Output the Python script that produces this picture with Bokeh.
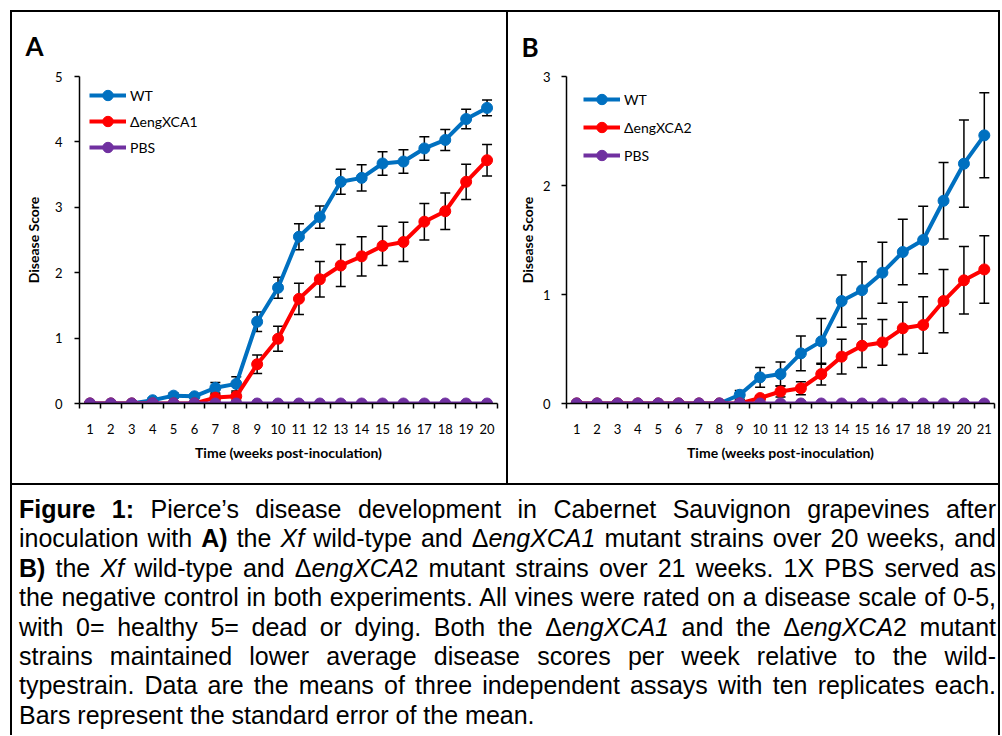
from bokeh.plotting import figure
from bokeh.models import (ColumnDataSource, Whisker, TeeHead, FixedTicker, Legend,
                          LegendItem, Div)
from bokeh.layouts import row, column
from bokeh.embed import file_html
from bokeh.resources import INLINE

# ---------------- data ----------------
weeks_a = [1, 2, 3, 4, 5, 6, 7, 8, 9, 10, 11, 12, 13, 14, 15, 16, 17, 18, 19, 20]
wt_a = [0.00, 0.00, 0.00, 0.05, 0.12, 0.11, 0.24, 0.30, 1.25, 1.77,
        2.55, 2.85, 3.39, 3.45, 3.67, 3.70, 3.90, 4.03, 4.35, 4.52]
wt_a_se = [0.00, 0.00, 0.00, 0.03, 0.04, 0.03, 0.08, 0.11, 0.15, 0.16,
           0.20, 0.17, 0.19, 0.20, 0.18, 0.18, 0.18, 0.16, 0.15, 0.12]
mut_a = [0.00, 0.00, 0.00, 0.00, 0.00, 0.00, 0.09, 0.11, 0.60, 0.99,
         1.60, 1.90, 2.11, 2.25, 2.41, 2.47, 2.78, 2.94, 3.39, 3.72]
mut_a_se = [0.00, 0.00, 0.00, 0.00, 0.00, 0.00, 0.05, 0.06, 0.14, 0.19,
            0.24, 0.27, 0.32, 0.30, 0.30, 0.30, 0.28, 0.28, 0.27, 0.24]
pbs_a = [0, 0, 0, 0, 0, 0, 0, 0, 0, 0, 0, 0, 0, 0, 0, 0, 0, 0, 0, 0]

weeks_b = [1, 2, 3, 4, 5, 6, 7, 8, 9, 10, 11, 12, 13, 14, 15, 16, 17, 18, 19, 20, 21]
wt_b = [0.00, 0.00, 0.00, 0.00, 0.00, 0.00, 0.00, 0.00, 0.08, 0.24, 0.27,
        0.46, 0.57, 0.94, 1.04, 1.20, 1.39, 1.50, 1.86, 2.20, 2.46]
wt_b_se = [0.00, 0.00, 0.00, 0.00, 0.00, 0.00, 0.00, 0.00, 0.04, 0.09, 0.11,
           0.16, 0.21, 0.24, 0.26, 0.28, 0.30, 0.31, 0.35, 0.40, 0.39]
mut_b = [0.00, 0.00, 0.00, 0.00, 0.00, 0.00, 0.00, 0.00, 0.00, 0.05, 0.11,
         0.14, 0.27, 0.43, 0.53, 0.56, 0.69, 0.72, 0.94, 1.13, 1.23]
mut_b_se = [0.00, 0.00, 0.00, 0.00, 0.00, 0.00, 0.00, 0.00, 0.00, 0.02, 0.05,
            0.06, 0.10, 0.16, 0.20, 0.21, 0.24, 0.26, 0.29, 0.31, 0.31]
pbs_b = [0, 0, 0, 0, 0, 0, 0, 0, 0, 0, 0, 0, 0, 0, 0, 0, 0, 0, 0, 0, 0]

y_ticks_a = [0, 1, 2, 3, 4, 5]
y_ticks_b = [0, 1, 2, 3]
names_a = ["WT", "\u0394engXCA1", "PBS"]
names_b = ["WT", "\u0394engXCA2", "PBS"]
x_title = "Time (weeks post-inoculation)"
y_title = "Disease Score"

caption_lines = [
    "<b>Figure 1:</b> Pierce\u2019s disease development in Cabernet Sauvignon grapevines after",
    "inoculation with <b>A)</b> the <i>Xf</i> wild-type and \u0394<i>engXCA1</i> mutant strains over 20 weeks, and",
    "<b>B)</b> the <i>Xf</i> wild-type and \u0394<i>engXCA</i>2 mutant strains over 21 weeks. 1X PBS served as",
    "the negative control in both experiments. All vines were rated on a disease scale of 0-5,",
    "with 0= healthy 5= dead or dying. Both the \u0394<i>engXCA1</i> and the \u0394<i>engXCA</i>2 mutant",
    "strains maintained lower average disease scores per week relative to the wild-",
    "typestrain. Data are the means of three independent assays with ten replicates each.",
    "Bars represent the standard error of the mean.",
]

FONT = "Lato"
COLORS = ["#0070C0", "#FF0000", "#7030A0"]


def panel(letter, weeks, wt, wt_se, mut, mut_se, pbs, names, yticks, width,
          mb, ylab_standoff, ytick_standoff, title_offset, title_standoff,
          legend_loc, legend_spacing):
    p = figure(width=width, height=471,
               x_range=(0.5, weeks[-1] + 0.5), y_range=(yticks[0], yticks[-1]),
               output_backend="svg", toolbar_location=None,
               min_border_left=mb[0], min_border_right=mb[1],
               min_border_top=mb[2], min_border_bottom=mb[3])
    p.outline_line_color = None
    p.grid.visible = False
    p.background_fill_color = "white"
    p.border_fill_color = "white"

    p.title.text = letter
    p.title.align = "left"
    p.title.offset = title_offset
    p.title.standoff = title_standoff
    p.title.text_font = FONT
    p.title.text_font_style = "bold"
    p.title.text_font_size = "26px"
    p.title.text_color = "black"

    xa = p.xaxis[0]
    xa.ticker = FixedTicker(ticks=weeks,
                            minor_ticks=[w - 0.5 for w in weeks] + [weeks[-1] + 0.5])
    xa.major_tick_out = 0
    xa.major_tick_in = 0
    xa.minor_tick_out = 5
    xa.minor_tick_in = 0
    xa.minor_tick_line_color = "black"
    xa.minor_tick_line_width = 1.5
    xa.axis_line_color = "black"
    xa.axis_line_width = 1.5
    xa.major_label_text_font = FONT
    xa.major_label_text_font_size = "13px"
    xa.major_label_text_color = "black"
    xa.major_label_standoff = 15
    xa.axis_label = x_title
    xa.axis_label_text_font = FONT
    xa.axis_label_text_font_style = "bold"
    xa.axis_label_text_font_size = "14px"
    xa.axis_label_text_color = "black"
    xa.axis_label_standoff = 7

    ya = p.yaxis[0]
    ya.ticker = FixedTicker(ticks=yticks)
    ya.major_tick_out = 5
    ya.major_tick_in = 0
    ya.minor_tick_out = 0
    ya.minor_tick_in = 0
    ya.major_tick_line_color = "black"
    ya.major_tick_line_width = 1.5
    ya.axis_line_color = "black"
    ya.axis_line_width = 1.5
    ya.major_label_text_font = FONT
    ya.major_label_text_font_size = "13px"
    ya.major_label_text_color = "black"
    ya.major_label_standoff = ytick_standoff
    ya.axis_label = y_title
    ya.axis_label_text_font = FONT
    ya.axis_label_text_font_style = "bold"
    ya.axis_label_text_font_size = "14px"
    ya.axis_label_text_color = "black"
    ya.axis_label_standoff = ylab_standoff

    # error bars
    for vals, se in [(wt, wt_se), (mut, mut_se)]:
        xs = [w for w, s in zip(weeks, se) if s > 0]
        up = [v + s for v, s in zip(vals, se) if s > 0]
        lo = [v - s for v, s in zip(vals, se) if s > 0]
        ws = ColumnDataSource(dict(x=xs, upper=up, lower=lo))
        p.add_layout(Whisker(source=ws, base="x", upper="upper", lower="lower",
                             line_color="black", line_width=1.5, level="underlay",
                             upper_head=TeeHead(size=10, line_color="black", line_width=1.5),
                             lower_head=TeeHead(size=10, line_color="black", line_width=1.5)))

    src = ColumnDataSource(dict(x=weeks, wt=wt, mut=mut, pbs=pbs))
    items = []
    for key, name, c in zip(["wt", "mut", "pbs"], names, COLORS):
        lr = p.line("x", key, source=src, line_color=c, line_width=4)
        sr = p.scatter("x", key, source=src, size=11, fill_color=c, line_color=c)
        items.append(LegendItem(label=name, renderers=[lr, sr]))

    leg = Legend(items=items, location=legend_loc, margin=0, padding=0,
                 spacing=legend_spacing, glyph_width=37, glyph_height=26, label_height=26,
                 label_standoff=4, label_text_font=FONT, label_text_font_size="14px",
                 label_text_color="black", border_line_color=None,
                 background_fill_alpha=0)
    p.add_layout(leg)
    return p


pA = panel("A", weeks_a, wt_a, wt_a_se, mut_a, mut_a_se, pbs_a, names_a, y_ticks_a,
           494, (67, 9, 64, 79), 10, 12, -54, 29, (10, 243), -1)
pB = panel("B", weeks_b, wt_b, wt_b_se, mut_b, mut_b_se, pbs_b, names_b, y_ticks_b,
           490, (58, 4, 63, 80), 4, 11, -45, 28, (17, 235), 2)


def bar(w, h):
    return Div(text="", width=w, height=h, margin=0,
               styles={"background-color": "black"})


def gap(w, h):
    return Div(text="", width=w, height=h, margin=0)


line_html = []
for i, ln in enumerate(caption_lines):
    last = i == len(caption_lines) - 1
    align = "text-align:left;" if last else "text-align:justify; text-align-last:justify;"
    line_html.append('<div style="%s">%s</div>' % (align, ln))

caption = Div(
    text=('<div style="width:977px; margin-left:7px; padding-top:10px; '
          'font-family:\'Liberation Sans\', Arial, sans-serif; font-size:25px; '
          'line-height:29.4px; color:#000;">' + "".join(line_html) + '</div>'),
    width=986, height=250, margin=0, styles={"overflow": "hidden"})

layout = column(
    gap(1000, 10),
    row(gap(10, 2), bar(990, 2)),
    row(gap(10, 471), bar(2, 471), pA, bar(2, 471), pB, bar(2, 471)),
    row(gap(10, 2), bar(990, 2)),
    row(gap(10, 250), bar(2, 250), caption, bar(2, 250)),
)

open("out.html", "w").write(file_html(layout, INLINE))
